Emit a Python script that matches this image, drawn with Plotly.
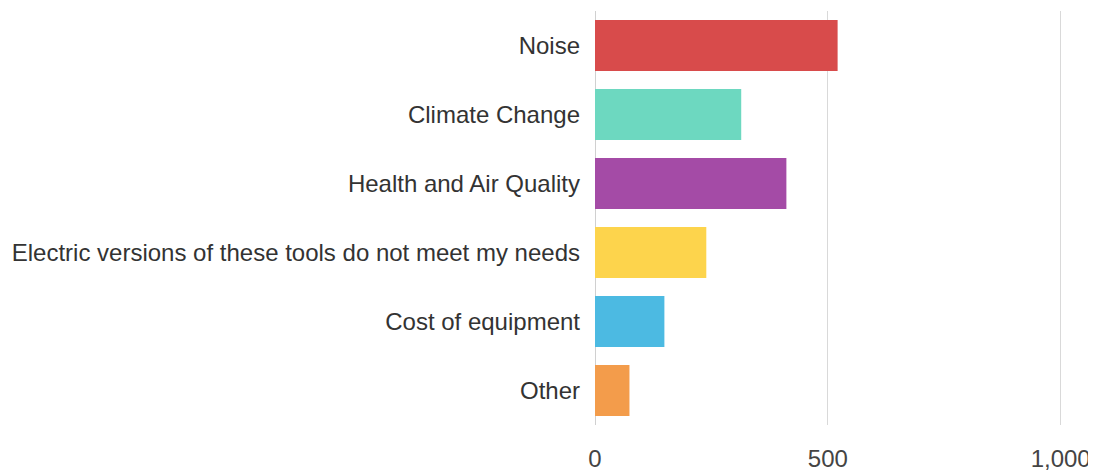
import plotly.graph_objects as go

categories = ["Noise", "Climate Change", "Health and Air Quality",
              "Electric versions of these tools do not meet my needs",
              "Cost of equipment", "Other"]
values = [521, 314, 411, 239, 149, 74]
colors = ["#d84b4b", "#6dd8c0", "#a44ba6", "#fdd44c", "#4cbae2", "#f39c4b"]
x_ticks = [0, 500, 1000]
x_tick_labels = ["0", "500", "1,000"]

fig = go.Figure(go.Bar(
    x=values, y=categories, orientation="h",
    marker=dict(color=colors, line=dict(width=0)),
    hoverinfo="x+y",
))

# page body has an 8px margin; figure sized/offset to compensate
fig.update_layout(
    width=1088, height=467,
    margin=dict(l=587, r=33, t=3, b=44),
    paper_bgcolor="white", plot_bgcolor="white",
    bargap=0.26,
    showlegend=False,
    font=dict(family="Liberation Sans, Arial, sans-serif", size=24, color="#333333"),
)
fig.update_xaxes(
    range=[0, 1005], tickvals=x_ticks, ticktext=x_tick_labels,
    showgrid=True, gridcolor="#d9d9d9", gridwidth=1,
    zeroline=True, zerolinecolor="#d0d0d0", zerolinewidth=1,
    showline=False, ticks="", ticklabelstandoff=17,
    tickfont=dict(size=24, color="#444444"),
)
fig.update_yaxes(
    autorange="reversed", showgrid=False, showline=False, ticks="",
    ticklabelstandoff=14,
    tickfont=dict(size=24, color="#333333"),
)

fig.write_html("out.html")
